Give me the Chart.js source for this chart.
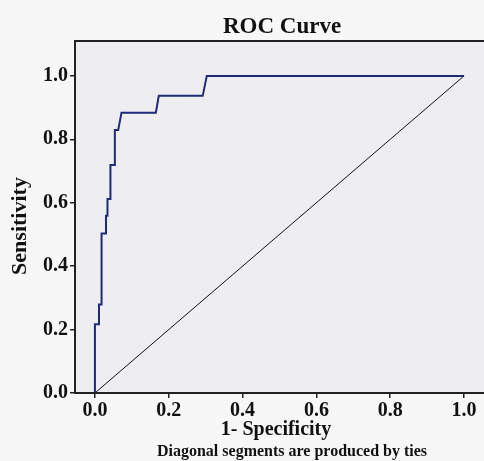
<!DOCTYPE html>
<html>
<head>
<meta charset="utf-8">
<script src="https://cdn.jsdelivr.net/npm/chart.js@4"></script>
<style>
  html, body { margin: 0; padding: 0; background: #f7f7f7; }
  #wrap { width: 484px; height: 461px; }
</style>
</head>
<body>
<div id="wrap"><canvas id="c" width="484" height="461"></canvas></div>
<script>
// ROC curve points (1-specificity, sensitivity)
const fpr = [0, 0, 0.011, 0.011, 0.018, 0.018, 0.030, 0.030, 0.034, 0.034, 0.042, 0.042, 0.054, 0.054, 0.063, 0.072, 0.165, 0.173, 0.292, 0.303, 1.0];
const tpr = [0, 0.217, 0.217, 0.279, 0.279, 0.503, 0.503, 0.559, 0.559, 0.612, 0.612, 0.719, 0.719, 0.829, 0.829, 0.884, 0.884, 0.937, 0.937, 1.0, 1.0];
const refLine = [0, 1];
const tickVals = [0, 0.2, 0.4, 0.6, 0.8, 1.0];

const FONT = '"Liberation Serif", "DejaVu Serif", serif';

// ── frame + texts drawn around the chart area ─────────────────────────────
const decor = {
  id: 'decor',
  beforeDraw(chart) {
    const { ctx, chartArea: a } = chart;
    ctx.save();
    ctx.fillStyle = '#eeeef0';
    ctx.fillRect(a.left, a.top, a.right - a.left, a.bottom - a.top);
    ctx.restore();
  },
  afterDraw(chart) {
    const { ctx, chartArea: a } = chart;
    ctx.save();
    ctx.strokeStyle = '#222';
    ctx.lineWidth = 2;
    ctx.beginPath();
    ctx.moveTo(a.right, a.top);
    ctx.lineTo(a.left, a.top);
    ctx.lineTo(a.left, a.bottom);
    ctx.lineTo(a.right, a.bottom);
    ctx.stroke();

    ctx.fillStyle = '#111';
    ctx.textAlign = 'center';
    ctx.textBaseline = 'middle';
    ctx.font = 'bold 23px ' + FONT;
    ctx.fillText('ROC Curve', 282, 27);
    ctx.font = 'bold 20px ' + FONT;
    ctx.fillText('1- Specificity', 276, 430);
    ctx.font = 'bold 16px ' + FONT;
    ctx.fillText('Diagonal segments are produced by ties', 292, 452);
    ctx.translate(20, 226);
    ctx.rotate(-Math.PI / 2);
    ctx.font = 'bold 22px ' + FONT;
    ctx.fillText('Sensitivity', 0, 0);
    ctx.restore();
  }
};

new Chart(document.getElementById('c'), {
  type: 'scatter',
  data: {
    datasets: [
      {
        data: fpr.map((x, i) => ({ x, y: tpr[i] })),
        showLine: true,
        borderColor: '#1f2a78',
        borderWidth: 2,
        pointRadius: 0,
        tension: 0,
      },
      {
        data: refLine.map(v => ({ x: v, y: v })),
        showLine: true,
        borderColor: '#111',
        borderWidth: 1,
        pointRadius: 0,
      },
    ],
  },
  options: {
    responsive: false,
    animation: false,
    layout: { padding: { top: 41, left: 0, right: 0, bottom: 0 } },
    plugins: { legend: { display: false }, tooltip: { enabled: false } },
    scales: {
      x: {
        type: 'linear',
        min: -0.054, max: 1.054,
        afterBuildTicks: s => { s.ticks = tickVals.map(value => ({ value })); },
        afterFit: s => { s.height = 68; },
        grid: { drawOnChartArea: false, tickLength: 5, color: '#222', lineWidth: 1.5 },
        border: { display: false },
        ticks: {
          color: '#111', padding: 1,
          font: { family: FONT, size: 20, weight: 'bold' },
          callback: v => v.toFixed(1),
          maxRotation: 0,
        },
      },
      y: {
        type: 'linear',
        min: 0, max: 1.11,
        afterBuildTicks: s => { s.ticks = tickVals.map(value => ({ value })); },
        afterFit: s => { s.width = 75; },
        grid: { drawOnChartArea: false, tickLength: 5, color: '#222', lineWidth: 1.5 },
        border: { display: false },
        ticks: {
          color: '#111', padding: 2,
          font: { family: FONT, size: 20, weight: 'bold' },
          callback: v => v.toFixed(1),
        },
      },
    },
  },
  plugins: [decor],
});
</script>
</body>
</html>
